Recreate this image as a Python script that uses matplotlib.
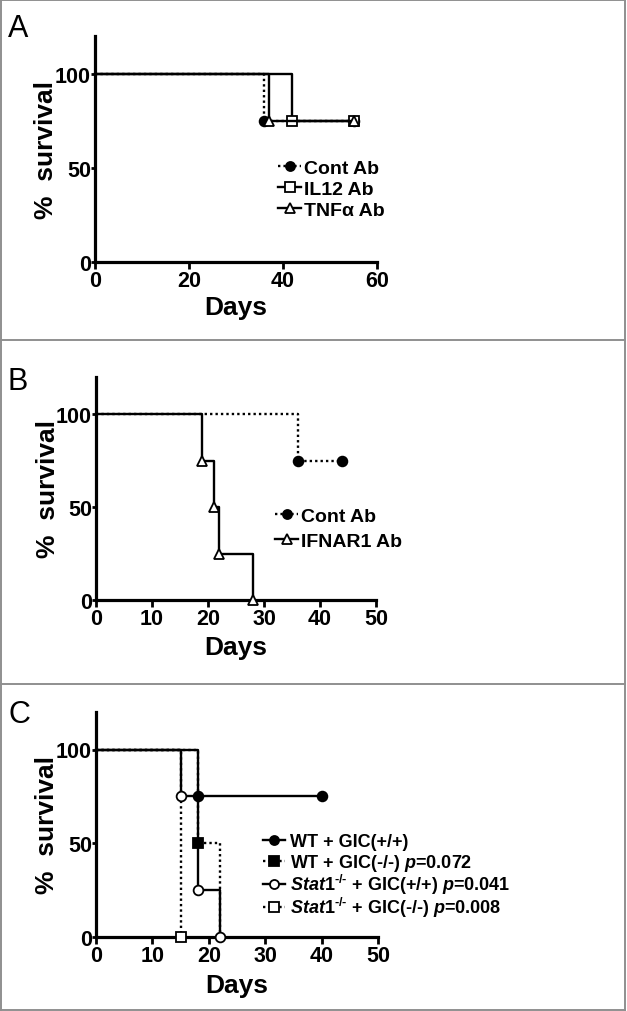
import matplotlib
matplotlib.use("Agg")
import matplotlib.pyplot as plt
from matplotlib.lines import Line2D

plt.rcParams["font.family"] = ["Liberation Sans", "DejaVu Sans"]
plt.rcParams["mathtext.fontset"] = "custom"
plt.rcParams["mathtext.rm"] = "Liberation Sans:bold"
plt.rcParams["mathtext.it"] = "Liberation Sans:italic:bold"
plt.rcParams["mathtext.bf"] = "Liberation Sans:bold"

# panel A
a_cont_t = [0, 36, 55]
a_cont_s = [100, 75, 75]
a_il12_t = [0, 42, 55]
a_il12_s = [100, 75, 75]
a_tnf_t = [0, 37, 55]
a_tnf_s = [100, 75, 75]

# panel B
b_cont_t = [0, 36, 44]
b_cont_s = [100, 75, 75]
b_ifn_t = [0, 19, 21, 22, 28]
b_ifn_s = [100, 75, 50, 25, 0]

# panel C
c_wt_pp_t = [0, 18, 40]
c_wt_pp_s = [100, 75, 75]
c_wt_mm_t = [0, 18, 22]
c_wt_mm_s = [100, 50, 0]
c_st_pp_t = [0, 15, 18, 22]
c_st_pp_s = [100, 75, 25, 0]
c_st_mm_t = [0, 15]
c_st_mm_s = [100, 0]

labels_a = ["Cont Ab", "IL12 Ab", "TNF\u03b1 Ab"]
labels_b = ["Cont Ab", "IFNAR1 Ab"]
labels_c = ["WT + GIC(+/+)",
            r"WT + GIC(-/-) $p$=0.072",
            r"$Stat1^{\text{-/-}}$ + GIC(+/+) $p$=0.041",
            r"$Stat1^{\text{-/-}}$ + GIC(-/-) $p$=0.008"]

W, H = 627, 1012
fig = plt.figure(figsize=(W / 100, H / 100), dpi=100)

def px_axes(left, right, top, bottom):
    return fig.add_axes([left / W, 1 - bottom / H, (right - left) / W, (bottom - top) / H])

def fx(x):
    return x / W

def fy(y):
    return 1 - y / H

DOT = (0, (1, 1.3))
LW = 1.7
MS = 7

def style(ax, xmax, xticks, xlab_y):
    ax.set_xlim(0, xmax)
    ax.set_ylim(0, 120)
    ax.set_xticks(xticks)
    ax.set_yticks([0, 50, 100])
    for s in ["top", "right"]:
        ax.spines[s].set_visible(False)
    for s in ["left", "bottom"]:
        ax.spines[s].set_linewidth(2.3)
    ax.tick_params(axis="x", length=5, width=2, labelsize=15.5, pad=1)
    ax.tick_params(axis="y", length=3, width=2, labelsize=15.5, pad=0)
    for lab in ax.get_xticklabels() + ax.get_yticklabels():
        lab.set_fontweight("bold")
    ax.patch.set_alpha(0)
    ax.set_xlabel("Days", fontsize=19, fontweight="bold")
    ax.set_ylabel("%  survival", fontsize=19, fontweight="bold")
    ax.yaxis.set_label_coords(-0.13, 0.5)
    ax.xaxis.set_label_coords(0.5, xlab_y)

def kstep(ax, t, s, ls, marker, fc, mev):
    ax.step(t, s, where="post", color="black", lw=LW, ls=ls, marker=marker,
            markersize=MS, markerfacecolor=fc, markeredgecolor="black",
            markeredgewidth=1.3, markevery=mev, clip_on=False, zorder=3)

def legend(labels, styles, x0, x1, xt, rows, fs=14):
    # hand-placed key, one row per series
    for lab, (ls, marker, fc), yr in zip(labels, styles, rows):
        fig.add_artist(Line2D([fx(x0), fx((x0 + x1) / 2), fx(x1)], [fy(yr)] * 3,
                              color="black", lw=LW, ls=ls, marker=marker,
                              markersize=MS - 0.5, markerfacecolor=fc,
                              markeredgecolor="black", markeredgewidth=1.3,
                              markevery=[1], transform=fig.transFigure))
        fig.text(fx(xt), fy(yr + fs / 2), lab, fontsize=fs, fontweight="bold",
                 ha="left", va="baseline")

# separators / border
border = "#8f8f8f"
for yy in [1, 341, 685, 1011]:
    fig.add_artist(Line2D([0, fx(625)], [fy(yy), fy(yy)], color=border, lw=1.4,
                          transform=fig.transFigure))
for xx in [1, 625]:
    fig.add_artist(Line2D([fx(xx), fx(xx)], [0, 1], color=border, lw=1.4,
                          transform=fig.transFigure))

# ---- A
axA = px_axes(95, 377, 37, 263)
style(axA, 60, [0, 20, 40, 60], -0.145)
kstep(axA, a_cont_t, a_cont_s, DOT, "o", "black", [1, 2])
kstep(axA, a_il12_t, a_il12_s, "-", "s", "white", [1, 2])
kstep(axA, a_tnf_t, a_tnf_s, "-", "^", "white", [1, 2])
legend(labels_a, [(DOT, "o", "black"), ("-", "s", "white"), ("-", "^", "white")],
       278, 301, 304, [167, 188, 209])
fig.text(fx(8), fy(37), "A", fontsize=22)

# ---- B
axB = px_axes(96, 376, 378, 601)
style(axB, 50, [0, 10, 20, 30, 40, 50], -0.155)
kstep(axB, b_cont_t, b_cont_s, DOT, "o", "black", [1, 2])
kstep(axB, b_ifn_t, b_ifn_s, "-", "^", "white", [1, 2, 3, 4])
legend(labels_b, [(DOT, "o", "black"), ("-", "^", "white")],
       275, 298, 301, [515, 540])
fig.text(fx(8), fy(390), "B", fontsize=22)

# ---- C
axC = px_axes(96, 378, 713, 938)
style(axC, 50, [0, 10, 20, 30, 40, 50], -0.16)
kstep(axC, c_wt_pp_t, c_wt_pp_s, "-", "o", "black", [1, 2])
kstep(axC, c_st_mm_t, c_st_mm_s, DOT, "s", "white", [1])
kstep(axC, c_wt_mm_t, c_wt_mm_s, DOT, "s", "black", [1])
kstep(axC, c_st_pp_t, c_st_pp_s, "-", "o", "white", [1, 2, 3])
legend(labels_c, [("-", "o", "black"), (DOT, "s", "black"),
                  ("-", "o", "white"), (DOT, "s", "white")],
       263, 285, 290, [841, 862, 885, 908], fs=13)
fig.text(fx(8), fy(723), "C", fontsize=22)

fig.savefig("out.png", dpi=100)
